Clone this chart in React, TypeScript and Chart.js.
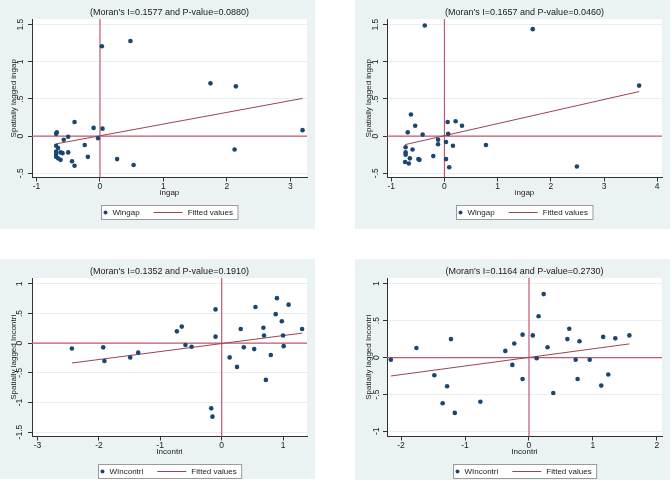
import React, { useEffect, useRef } from 'react';
import { Chart, registerables } from 'chart.js';

Chart.register(...registerables);

// ---------- Panel 1 (top-left) ----------
const p1Title = "(Moran's I=0.1577 and P-value=0.0880)";
const p1XLabel = 'ingap';
const p1YLabel = 'Spatially lagged ingap';
const p1Legend = ['Wingap', 'Fitted values'];
const p1X = [0.03, 0.48, 1.74, 2.14, 3.19, 2.12, 0.53, 0.27, -0.40, -0.10, 0.04, -0.03, -0.50, -0.57, -0.24, -0.19, -0.50, -0.44, -0.40, -0.68, -0.69, -0.69, -0.66, -0.69, -0.69, -0.69, -0.66, -0.62, -0.62, -0.59];
const p1Y = [1.21, 1.28, 0.71, 0.67, 0.08, -0.18, -0.39, -0.31, 0.19, 0.11, 0.10, -0.03, -0.01, -0.05, -0.12, -0.28, -0.22, -0.34, -0.40, 0.05, 0.03, -0.13, -0.16, -0.21, -0.24, -0.28, -0.30, -0.32, -0.22, -0.23];
const p1FitX = [-0.69, 3.19];
const p1FitY = [-0.105, 0.507];
const p1XTicks = [-1, 0, 1, 2, 3];
const p1YTicks = [-0.5, 0, 0.5, 1, 1.5];
const p1XRange = [-1.07, 3.26];
const p1YRange = [-0.558, 1.577];

// ---------- Panel 2 (top-right) ----------
const p2Title = "(Moran's I=0.1657 and P-value=0.0460)";
const p2XLabel = 'ingap';
const p2YLabel = 'Spatially lagged ingap';
const p2Legend = ['Wingap', 'Fitted values'];
const p2X = [-0.37, 1.66, 3.66, 2.49, 0.78, -0.63, -0.55, -0.69, -0.41, 0.06, 0.21, 0.33, 0.07, -0.12, -0.12, 0.03, 0.16, -0.73, -0.60, -0.73, -0.73, -0.65, -0.49, -0.47, -0.21, -0.74, -0.67, 0.03, 0.09];
const p2Y = [1.49, 1.44, 0.68, -0.41, -0.12, 0.29, 0.14, 0.05, 0.02, 0.19, 0.20, 0.14, 0.03, -0.05, -0.11, -0.08, -0.13, -0.15, -0.18, -0.22, -0.25, -0.30, -0.31, -0.32, -0.27, -0.35, -0.37, -0.31, -0.42];
const p2FitX = [-0.74, 3.66];
const p2FitY = [-0.115, 0.60];
const p2XTicks = [-1, 0, 1, 2, 3, 4];
const p2YTicks = [-0.5, 0, 0.5, 1, 1.5];
const p2XRange = [-1.08, 4.09];
const p2YRange = [-0.558, 1.577];

// ---------- Panel 3 (bottom-left) ----------
const p3Title = "(Moran's I=0.1352 and P-value=0.1910)";
const p3XLabel = 'Incontri';
const p3YLabel = 'Spatially lagged Incontri';
const p3Legend = ['WIncontri', 'Fitted values'];
const p3X = [-2.44, -1.93, -1.91, -1.49, -1.36, -0.73, -0.65, -0.59, -0.49, -0.10, -0.10, -0.17, -0.15, 0.13, 0.25, 0.31, 0.36, 0.53, 0.55, 0.68, 0.69, 0.72, 0.80, 0.88, 0.90, 0.98, 1.00, 1.01, 1.09, 1.31];
const p3Y = [-0.09, -0.07, -0.30, -0.24, -0.16, 0.20, 0.28, -0.03, -0.06, 0.57, 0.11, -1.10, -1.24, -0.24, -0.40, 0.24, -0.07, -0.10, 0.61, 0.26, 0.13, -0.62, -0.20, 0.49, 0.76, 0.37, 0.13, -0.05, 0.65, 0.24];
const p3FitX = [-2.44, 1.31];
const p3FitY = [-0.335, 0.17];
const p3XTicks = [-3, -2, -1, 0, 1];
const p3YTicks = [-1.5, -1, -0.5, 0, 0.5, 1];
const p3XRange = [-3.09, 1.39];
const p3YRange = [-1.575, 1.10];

// ---------- Panel 4 (bottom-right) ----------
const p4Title = "(Moran's I=0.1164 and P-value=0.2730)";
const p4XLabel = 'Incontri';
const p4YLabel = 'Spatially lagged Incontri';
const p4Legend = ['WIncontri', 'Fitted values'];
const p4X = [-2.16, -1.76, -1.22, -1.48, -1.28, -1.35, -1.16, -0.76, -0.37, -0.23, -0.26, -0.10, -0.10, 0.06, 0.12, 0.15, 0.23, 0.29, 0.38, 0.60, 0.63, 0.73, 0.76, 0.79, 0.95, 1.13, 1.16, 1.24, 1.35, 1.57];
const p4Y = [-0.03, 0.13, 0.25, -0.24, -0.39, -0.62, -0.75, -0.60, 0.09, 0.19, -0.10, 0.31, -0.29, 0.30, -0.01, 0.56, 0.86, 0.14, -0.48, 0.25, 0.39, -0.03, -0.29, 0.22, -0.03, -0.38, 0.28, -0.23, 0.26, 0.30];
const p4FitX = [-2.16, 1.57];
const p4FitY = [-0.25, 0.185];
const p4XTicks = [-2, -1, 0, 1, 2];
const p4YTicks = [-1, -0.5, 0, 0.5, 1];
const p4XRange = [-2.22, 2.08];
const p4YRange = [-1.07, 1.078];

// ---------- styling ----------
const FONT = '"Liberation Sans", Arial, sans-serif';
const BG = '#eaf2f3';
const POINT_COLOR = '#1a476f';
const FIT_COLOR = '#9a4450';
const REF_COLOR = '#bf5a73';
const AXIS_COLOR = '#333333';
const TEXT_COLOR = '#1a1a1a';
const GRID_COLOR = '#e9eff1';

const fmt = (v: number | string) => {
  const s = String(Number(v));
  return s.replace(/^(-?)0\./, '$1.');
};

type PanelCfg = {
  left: number; top: number; w: number; h: number;
  title: string; xLabel: string; yLabel: string; legend: string[];
  xs: number[]; ys: number[]; fitX: number[]; fitY: number[];
  xTicks: number[]; yTicks: number[]; xRange: number[]; yRange: number[];
};

const panels: PanelCfg[] = [
  { left: 0, top: 0, w: 315, h: 229, title: p1Title, xLabel: p1XLabel, yLabel: p1YLabel, legend: p1Legend, xs: p1X, ys: p1Y, fitX: p1FitX, fitY: p1FitY, xTicks: p1XTicks, yTicks: p1YTicks, xRange: p1XRange, yRange: p1YRange },
  { left: 355, top: 0, w: 315, h: 229, title: p2Title, xLabel: p2XLabel, yLabel: p2YLabel, legend: p2Legend, xs: p2X, ys: p2Y, fitX: p2FitX, fitY: p2FitY, xTicks: p2XTicks, yTicks: p2YTicks, xRange: p2XRange, yRange: p2YRange },
  { left: 0, top: 259, w: 315, h: 220, title: p3Title, xLabel: p3XLabel, yLabel: p3YLabel, legend: p3Legend, xs: p3X, ys: p3Y, fitX: p3FitX, fitY: p3FitY, xTicks: p3XTicks, yTicks: p3YTicks, xRange: p3XRange, yRange: p3YRange },
  { left: 355, top: 259, w: 315, h: 221, title: p4Title, xLabel: p4XLabel, yLabel: p4YLabel, legend: p4Legend, xs: p4X, ys: p4Y, fitX: p4FitX, fitY: p4FitY, xTicks: p4XTicks, yTicks: p4YTicks, xRange: p4XRange, yRange: p4YRange },
];

const bgPlugin = {
  id: 'stataBg',
  beforeDraw(chart: any) {
    const { ctx, chartArea, width, height } = chart;
    ctx.save();
    ctx.fillStyle = BG;
    ctx.fillRect(0, 0, width, height);
    ctx.fillStyle = '#ffffff';
    ctx.fillRect(chartArea.left, chartArea.top, chartArea.right - chartArea.left, chartArea.bottom - chartArea.top);
    ctx.restore();
  },
};

const legendBoxPlugin = {
  id: 'stataLegend',
  afterDraw(chart: any, _args: any, opts: any) {
    const { ctx, chartArea } = chart;
    const labels: string[] = opts.labels || [];
    const ds = chart.data.datasets;
    ctx.save();
    ctx.font = `8px ${FONT}`;
    const w1 = ctx.measureText(labels[0]).width;
    const w2 = ctx.measureText(labels[1]).width;
    const boxW = 4 + 7 + w1 + 14 + 29 + 5 + w2 + 5;
    const boxH = 14;
    const cx = (chartArea.left + chartArea.right) / 2;
    const x0 = Math.round(cx - boxW / 2) + 0.5;
    const y0 = Math.round(chartArea.bottom + 27) + 0.5;
    ctx.fillStyle = '#ffffff';
    ctx.fillRect(x0, y0, boxW, boxH);
    ctx.strokeStyle = '#9a9a9a';
    ctx.lineWidth = 1;
    ctx.strokeRect(x0, y0, boxW, boxH);
    const cy = y0 + boxH / 2;
    ctx.fillStyle = ds[0].backgroundColor;
    ctx.beginPath();
    ctx.arc(x0 + 4, cy, 2, 0, Math.PI * 2);
    ctx.fill();
    ctx.fillStyle = TEXT_COLOR;
    ctx.textBaseline = 'middle';
    ctx.textAlign = 'left';
    let x = x0 + 11;
    ctx.fillText(labels[0], x, cy + 0.5);
    x += w1 + 14;
    ctx.strokeStyle = ds[1].borderColor;
    ctx.lineWidth = 1;
    ctx.beginPath();
    ctx.moveTo(x, cy);
    ctx.lineTo(x + 29, cy);
    ctx.stroke();
    x += 29 + 5;
    ctx.fillStyle = TEXT_COLOR;
    ctx.fillText(labels[1], x, cy + 0.5);
    ctx.restore();
  },
};

function Panel({ cfg }: { cfg: PanelCfg }) {
  const ref = useRef<HTMLCanvasElement>(null);
  useEffect(() => {
    if (!ref.current) return;
    const points = cfg.xs.map((x, i) => ({ x, y: cfg.ys[i] }));
    const fit = cfg.fitX.map((x, i) => ({ x, y: cfg.fitY[i] }));
    const vRef = [{ x: 0, y: cfg.yRange[0] }, { x: 0, y: cfg.yRange[1] }];
    const hRef = [{ x: cfg.xRange[0], y: 0 }, { x: cfg.xRange[1], y: 0 }];
    const chart = new Chart(ref.current, {
      type: 'scatter',
      data: {
        datasets: [
          { label: cfg.legend[0], data: points, backgroundColor: POINT_COLOR, borderColor: POINT_COLOR, pointRadius: 2.3, borderWidth: 0 } as any,
          { label: cfg.legend[1], data: fit, showLine: true, borderColor: FIT_COLOR, borderWidth: 1, pointRadius: 0, backgroundColor: FIT_COLOR } as any,
          { label: 'xline', data: vRef, showLine: true, borderColor: REF_COLOR, borderWidth: 1.2, pointRadius: 0 } as any,
          { label: 'yline', data: hRef, showLine: true, borderColor: REF_COLOR, borderWidth: 1.2, pointRadius: 0 } as any,
        ],
      },
      options: {
        responsive: false,
        animation: false,
        events: [],
        layout: { padding: { left: 0, right: 8, top: 0, bottom: cfg.h - 203.5 } },
        plugins: {
          legend: { display: false },
          tooltip: { enabled: false },
          title: {
            display: true,
            text: cfg.title,
            fullSize: false,
            color: TEXT_COLOR,
            font: { family: FONT, size: 9, weight: 'normal' },
            padding: { top: 7.6, bottom: 0.6 },
          },
          stataLegend: { labels: cfg.legend },
        } as any,
        scales: {
          x: {
            type: 'linear',
            min: cfg.xRange[0],
            max: cfg.xRange[1],
            afterBuildTicks: (s: any) => { s.ticks = cfg.xTicks.map((v) => ({ value: v })); },
            afterFit: (s: any) => { s.height = 26; },
            grid: { drawOnChartArea: false, drawTicks: true, tickLength: 4, tickColor: AXIS_COLOR },
            border: { display: true, color: AXIS_COLOR, width: 1 },
            ticks: { color: TEXT_COLOR, font: { family: FONT, size: 8.5 }, padding: 0, maxRotation: 0, autoSkip: false, callback: (v: any) => fmt(v) },
            title: { display: true, text: cfg.xLabel, color: TEXT_COLOR, font: { family: FONT, size: 8 }, padding: { top: 0, bottom: 5.7 } },
          },
          y: {
            type: 'linear',
            min: cfg.yRange[0],
            max: cfg.yRange[1],
            afterBuildTicks: (s: any) => { s.ticks = cfg.yTicks.map((v) => ({ value: v })); },
            afterFit: (s: any) => { s.width = 32; },
            grid: { color: GRID_COLOR, drawTicks: true, tickLength: 4, tickColor: AXIS_COLOR },
            border: { display: true, color: AXIS_COLOR, width: 1 },
            ticks: { color: TEXT_COLOR, font: { family: FONT, size: 8.5 }, padding: 1, minRotation: 90, maxRotation: 90, crossAlign: 'center', autoSkip: false, callback: (v: any) => fmt(v) },
            title: { display: true, text: cfg.yLabel, color: TEXT_COLOR, font: { family: FONT, size: 8 }, padding: { top: 8.5, bottom: 0 } },
          },
        },
      } as any,
      plugins: [bgPlugin, legendBoxPlugin],
    });
    return () => chart.destroy();
  }, [cfg]);
  return (
    <div style={{ position: 'absolute', left: cfg.left, top: cfg.top, width: cfg.w, height: cfg.h, background: BG }}>
      <canvas ref={ref} width={cfg.w} height={cfg.h} style={{ width: cfg.w, height: cfg.h, display: 'block' }} />
    </div>
  );
}

export default function App() {
  return (
    <div style={{ position: 'absolute', left: 0, top: 0, width: 670, height: 489, background: '#ffffff', overflow: 'hidden' }}>
      {panels.map((p, i) => (
        <Panel key={i} cfg={p} />
      ))}
    </div>
  );
}
